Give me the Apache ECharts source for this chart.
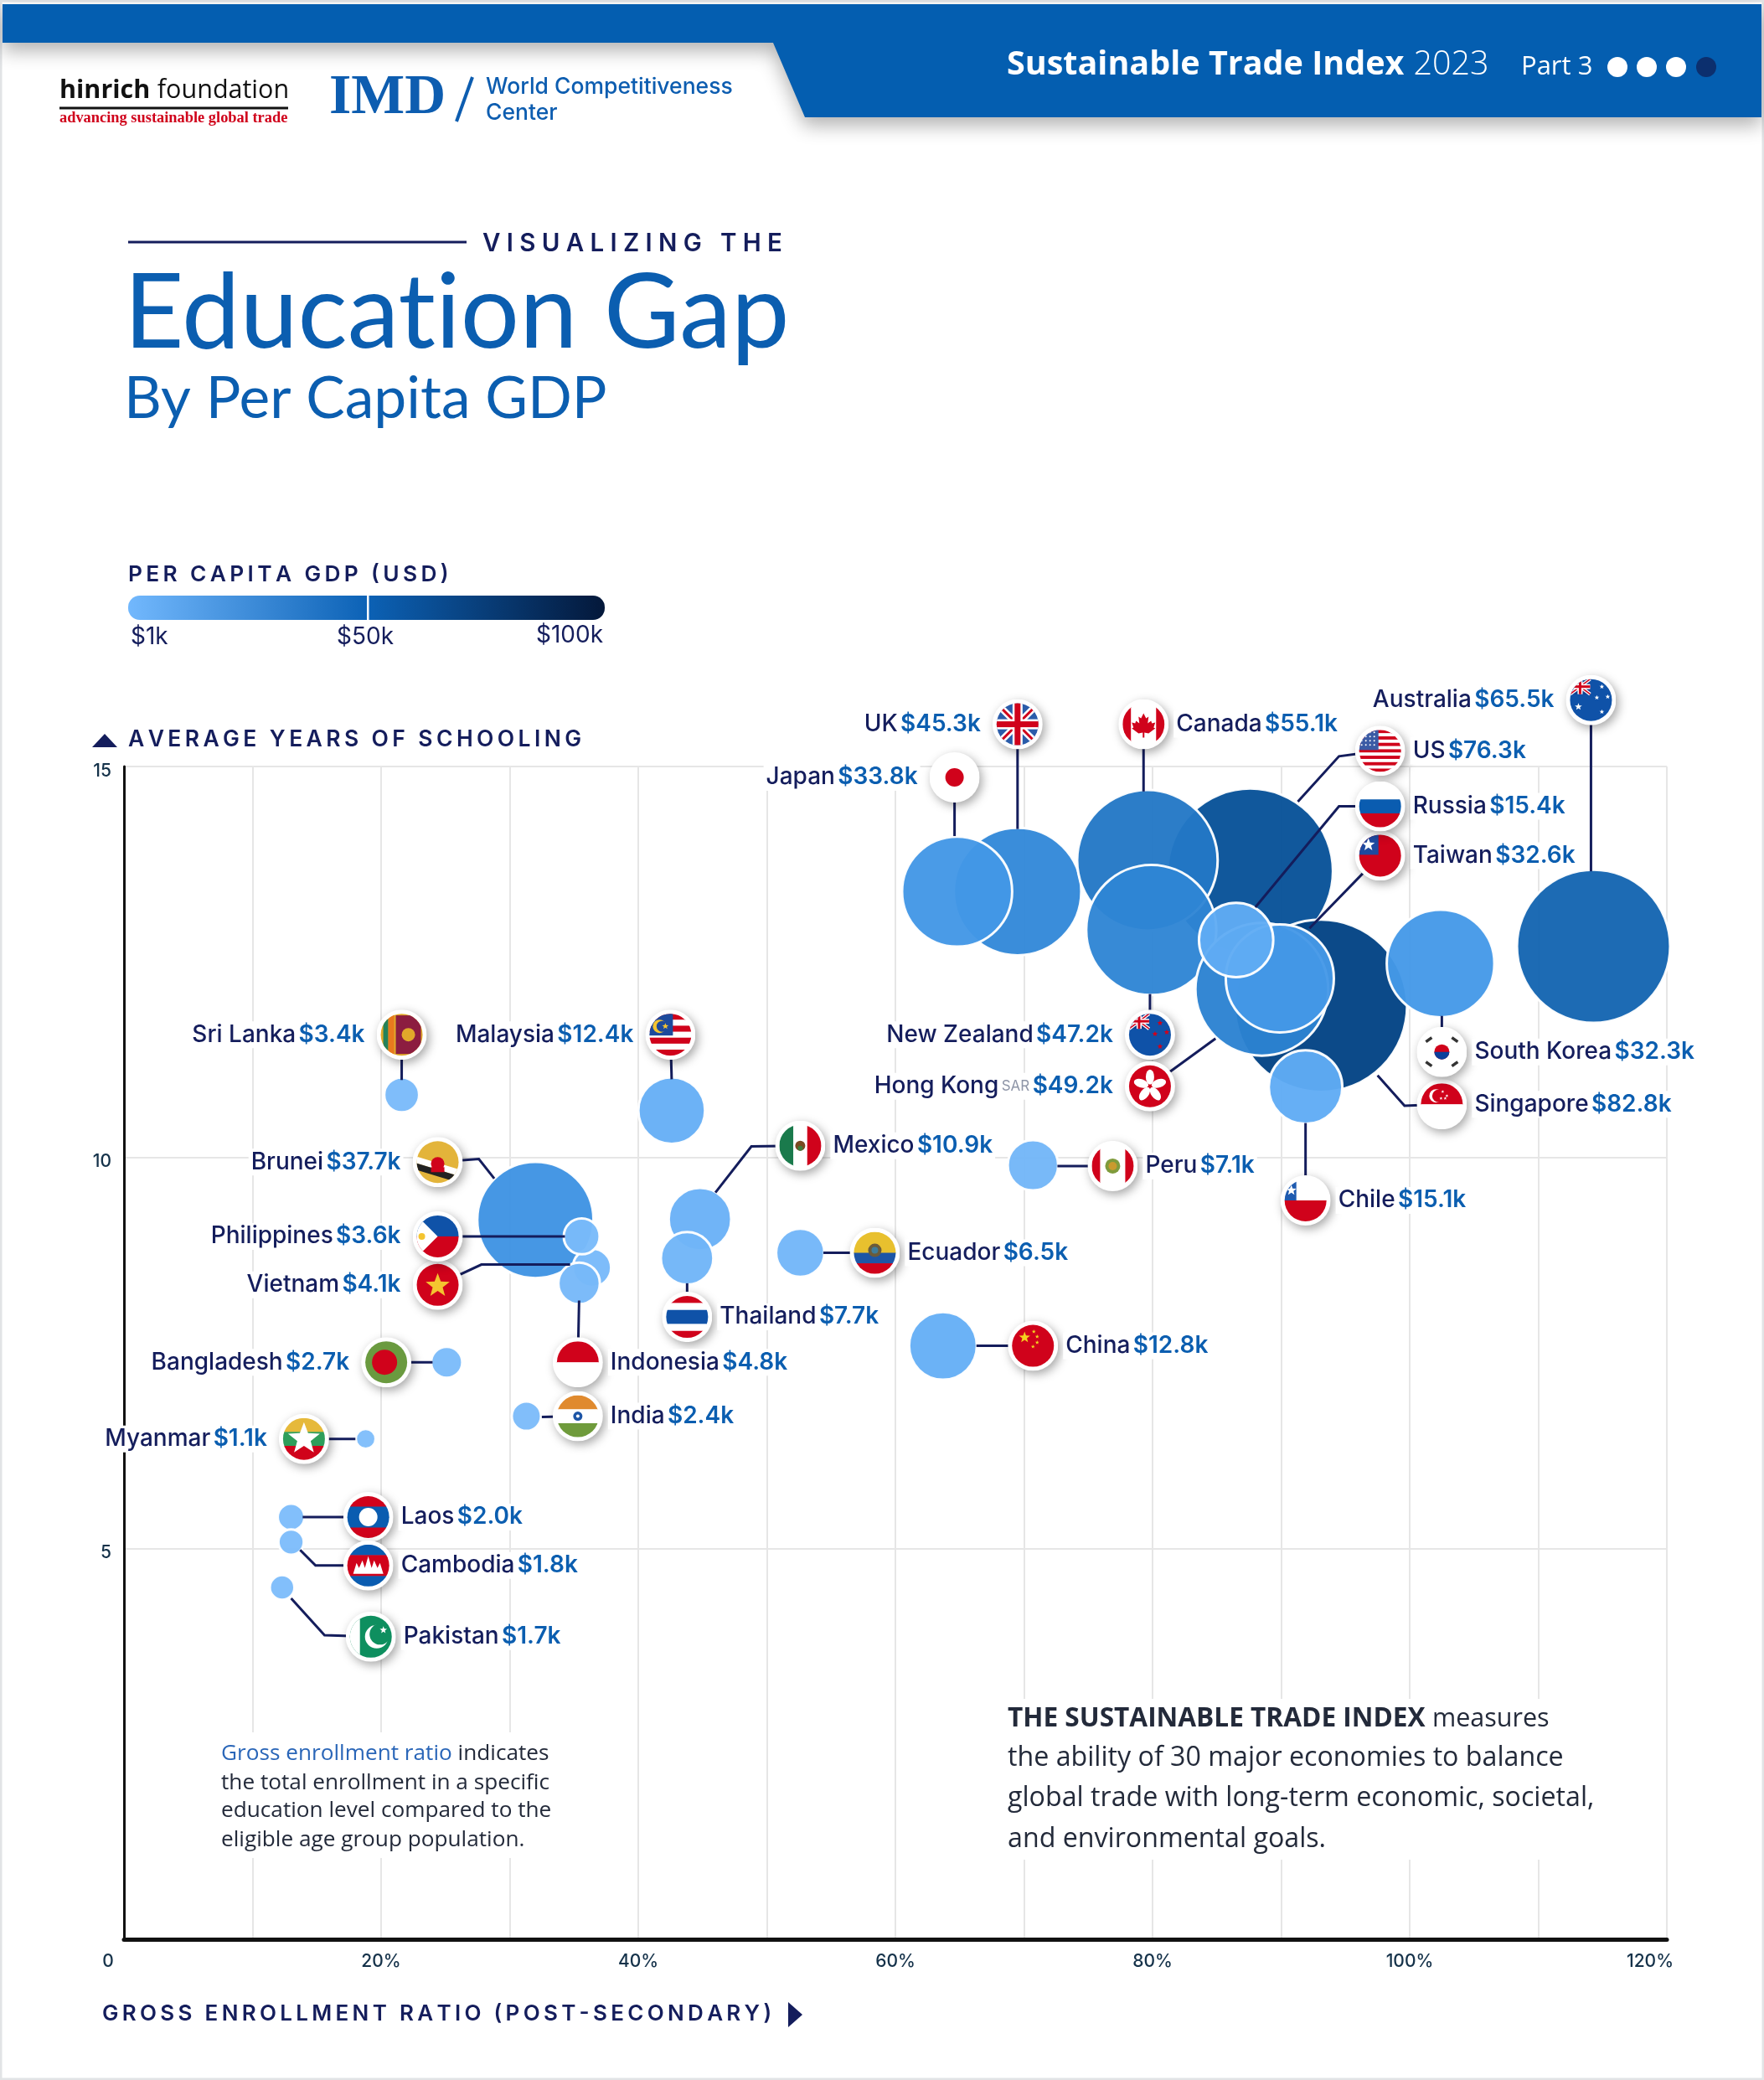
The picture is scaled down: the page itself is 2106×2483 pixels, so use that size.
<!DOCTYPE html>
<html style='height: 100%'>
<head>
    <meta charset='utf-8'>
</head>
<body style='height: 100%; margin: 0; background: #fff'>
    <div id='container' style='width: 2106px; height: 2483px'></div>
    <script src='https://cdn.jsdelivr.net/npm/echarts@6/dist/echarts.min.js'></script>
    <script type='text/javascript'>
// values, listed in drawing order (back to front)
var countries = ['US','Singapore','Australia','UK','Canada','Japan','New Zealand','South Korea','Hong Kong','Taiwan','Russia','Chile','Peru','Sri Lanka','Malaysia','Brunei','Vietnam','Philippines','Indonesia','Mexico','Thailand','Ecuador','China','Bangladesh','India','Myanmar','Laos','Cambodia','Pakistan'];
var enrollment = [87.6,93.1,114.3,69.5,79.6,64.8,79.9,102.4,88.5,89.9,86.5,91.9,70.7,21.6,42.6,32.0,36.4,35.6,35.4,44.8,43.8,52.6,63.7,25.1,31.3,18.8,13.0,13.0,12.3];
var schooling = [13.66,11.94,12.70,13.40,13.80,13.40,12.91,12.48,12.15,12.29,12.78,10.90,9.90,10.80,10.60,9.20,8.59,8.99,8.39,9.21,8.71,8.78,7.59,7.38,6.69,6.40,5.40,5.08,4.50];
var gdp = [76.3,82.8,65.5,45.3,55.1,33.8,47.2,32.3,49.2,32.6,15.4,15.1,7.1,3.4,12.4,37.7,4.1,3.6,4.8,10.9,7.7,6.5,12.8,2.7,2.4,1.1,2.0,1.8,1.7];

// where each flag sits, in axis units
var flagX = [97.7,102.5,114.1,69.5,79.3,64.6,79.8,102.5,79.8,97.7,97.7,91.9,76.9,21.6,42.5,24.4,24.4,24.4,35.3,52.6,43.8,58.4,70.7,20.4,35.3,14.0,19.0,19.0,19.2];
var flagY = [15.20,10.68,15.85,15.54,15.54,14.86,11.57,11.35,10.91,13.86,14.49,9.45,9.89,11.57,11.57,9.94,8.37,8.99,7.38,10.15,7.96,8.78,7.59,7.38,6.69,6.40,5.40,4.78,3.87];
var labelSide = ['right','right','left','left','right','left','left','right','left','right','right','right','right','left','left','left','left','left','right','right','right','right','right','left','right','left','right','right','right'];

// leader line points after the flag, in axis units
var leaderPoints = [
    [[94.5,15.13],[91.3,14.55]], [[99.6,10.66],[97.5,11.05]], [[114.1,13.66]], [[69.5,14.20]], [[79.3,14.68]],
    [[64.6,14.11]], [[79.8,12.09]], [[102.5,11.81]], [[84.9,11.52]], [[92.2,12.93]],
    [[94.5,14.49],[88.0,13.20]], [[91.9,10.44]], [[72.6,9.89]], [[21.6,10.99]], [[42.6,11.00]],
    [[27.6,9.98],[28.8,9.73]], [[27.8,8.63],[34.7,8.63]], [[34.3,8.99]], [[35.4,8.17]], [[48.8,10.14],[46.0,9.55]],
    [[43.8,8.39]], [[54.4,8.78]], [[66.3,7.59]], [[24.0,7.38]], [[32.5,6.68]],
    [[18.0,6.40]], [[13.9,5.40]], [[14.9,4.78],[13.7,4.98]], [[15.6,3.89],[13.0,4.36]]
];

var gdpColors = ['#7fbdfb','#54a5f2','#3a90e0','#1a6fbd','#024a8f','#04183a'];
var navy = '#141d5c';
var blue = '#0b5eb0';
var labelFont = 'Inter';

// flags
function r(x,y,w,h,c){ return '<rect x="'+x+'" y="'+y+'" width="'+w+'" height="'+h+'" fill="'+c+'"/>'; }
function hb(cols,w){
    var t=0,s='',y=5; w=w||cols.map(function(){return 1;});
    w.forEach(function(v){t+=v;});
    cols.forEach(function(c,i){ var h=50*w[i]/t; s+=r(0,y,60,h+.5,c); y+=h; });
    return s;
}
function vb(cols,w){
    var t=0,s='',x=5;
    w.forEach(function(v){t+=v;});
    cols.forEach(function(c,i){ var h=50*w[i]/t; s+=r(x,0,h+.5,60,c); x+=h; });
    return s;
}
function star(cx,cy,R,c){
    var p=[];
    for(var i=0;i<10;i++){
        var a=-Math.PI/2+i*Math.PI/5, q=i%2?R*.42:R;
        p.push((cx+q*Math.cos(a)).toFixed(1)+','+(cy+q*Math.sin(a)).toFixed(1));
    }
    return '<polygon points="'+p.join(' ')+'" fill="'+c+'"/>';
}
function disc(x,y,R,c){ return '<circle cx="'+x+'" cy="'+y+'" r="'+R+'" fill="'+c+'"/>'; }
function poly(pts,c){ return '<polygon points="'+pts+'" fill="'+c+'"/>'; }
function line(a,b,c,d,col,w){ return '<line x1="'+a+'" y1="'+b+'" x2="'+c+'" y2="'+d+'" stroke="'+col+'" stroke-width="'+w+'"/>'; }
function union(x,y,k){
    var s=r(x,y,24*k,18*k,'#123f8c');
    s+=line(x,y,x+24*k,y+18*k,'#fff',4*k)+line(x+24*k,y,x,y+18*k,'#fff',4*k);
    s+=line(x,y,x+24*k,y+18*k,'#d0021b',1.5*k)+line(x+24*k,y,x,y+18*k,'#d0021b',1.5*k);
    s+=r(x+9*k,y,6*k,18*k,'#fff')+r(x,y+6*k,24*k,6*k,'#fff');
    s+=r(x+10.5*k,y,3*k,18*k,'#d0021b')+r(x,y+7.5*k,24*k,3*k,'#d0021b');
    return s;
}
var RED='#d0021b', BL='#0a5cb0';
var flagBodies = {
    'US': (function(){ var c=[],i; for(i=0;i<13;i++) c.push(i%2?'#fff':RED); var s=hb(c),d=''; for(i=0;i<16;i++) d+=disc(8+(i%4)*5,8+Math.floor(i/4)*5,1,'#fff'); return s+r(0,5,28,24,'#3b5ba5')+d; })(),
    'Singapore': hb([RED,'#fff'])+disc(23,20,8,'#fff')+disc(26,20,7.5,RED)+star(31,15,2,'#fff')+star(36,20,2,'#fff')+star(29,23,2,'#fff')+star(34,23,2,'#fff'),
    'Australia': r(0,0,60,60,'#0f52a8')+union(5,5,1)+star(15,38,4.5,'#fff')+star(43,14,3,'#fff')+star(50,26,3,'#fff')+star(37,27,3,'#fff')+star(43,44,3,'#fff'),
    'UK': r(0,0,60,60,'#2a5caa')+line(0,0,60,60,'#fff',8)+line(60,0,0,60,'#fff',8)+line(0,0,60,60,RED,3)+line(60,0,0,60,RED,3)+r(24,0,12,60,'#fff')+r(0,24,60,12,'#fff')+r(26.5,0,7,60,RED)+r(0,26.5,60,7,RED),
    'Canada': vb([RED,'#fff',RED],[1,3,1])+poly('30,17 33,23 36,21 35,29 39,26 40,29 44,28 42,34 44,35 36,41 31,40 31,46 29,46 29,40 24,41 16,35 18,34 16,28 20,29 21,26 25,29 24,21 27,23',RED),
    'Japan': r(0,0,60,60,'#fff')+disc(30,30,11,RED),
    'New Zealand': r(0,0,60,60,'#0f52a8')+union(5,5,1)+star(42,16,3.5,RED)+star(50,27,3.5,RED)+star(36,29,3.5,RED)+star(42,44,3.5,RED),
    'South Korea': r(0,0,60,60,'#fff')+disc(30,30,9,RED)+'<path d="M21 30a9 9 0 0 0 18 0z" fill="#0a3f9c"/>'+line(11,18,18,13,'#333',3.5)+line(42,13,49,18,'#333',3.5)+line(11,42,18,47,'#333',3.5)+line(42,47,49,42,'#333',3.5),
    'Hong Kong': r(0,0,60,60,RED)+'<g fill="#fff"><ellipse cx="30" cy="19" rx="5" ry="9"/><ellipse cx="30" cy="19" rx="5" ry="9" transform="rotate(72 30 30)"/><ellipse cx="30" cy="19" rx="5" ry="9" transform="rotate(144 30 30)"/><ellipse cx="30" cy="19" rx="5" ry="9" transform="rotate(216 30 30)"/><ellipse cx="30" cy="19" rx="5" ry="9" transform="rotate(288 30 30)"/></g>',
    'Taiwan': r(0,0,60,60,RED)+r(0,0,28,29,'#1f4aa0')+star(16,17,8,'#fff'),
    'Russia': hb(['#fff',BL,RED]),
    'Chile': hb(['#fff',RED])+r(0,0,19,30,'#1f5bb0')+star(13,18,6.5,'#fff'),
    'Peru': vb([RED,'#fff',RED],[1,3,1])+disc(30,30,9,'#7f9b3c')+disc(30,30,5,'#c99a2e'),
    'Sri Lanka': r(0,0,60,60,'#e0a92a')+r(8,0,6,60,'#24825a')+r(14,0,7,60,'#e8791e')+r(23,7,30,46,'#8c1d40')+disc(38,30,8,'#e0a92a'),
    'Malaysia': hb([RED,'#fff',RED,'#fff',RED,'#fff',RED])+r(0,0,33,31,'#1d4a9c')+disc(17,20,8,'#f4c430')+disc(20,20,6.5,'#1d4a9c')+star(24,20,4,'#f4c430'),
    'Brunei': r(0,0,60,60,'#e3b43a')+poly('0,22 60,40 60,48 0,30','#fff')+poly('0,30 60,48 60,56 0,38','#222')+disc(30,32,8,RED)+r(22,36,16,6,RED),
    'Vietnam': r(0,0,60,60,RED)+star(30,31,15,'#f4c430'),
    'Philippines': hb(['#0f52a8',RED])+poly('0,0 30,30 0,60','#fff')+disc(11,30,4,'#f4c430'),
    'Indonesia': hb([RED,'#fff']),
    'Mexico': vb(['#1a7a4c','#fff',RED],[1,1,1])+disc(30,30,6,'#7a4a22')+disc(30,33,3,'#3f7d3a'),
    'Thailand': hb([RED,'#fff','#0f52a8','#fff',RED],[1,1,2,1,1]),
    'Ecuador': hb(['#e8c02e','#1d55a6',RED],[2,1,1])+disc(30,27,8,'#6b5b3a')+disc(30,27,4,'#3f7d9a'),
    'China': r(0,0,60,60,RED)+star(20,20,7,'#f4d21f')+star(31,13,2.5,'#f4d21f')+star(35,19,2.5,'#f4d21f')+star(35,26,2.5,'#f4d21f')+star(30,31,2.5,'#f4d21f'),
    'Bangladesh': r(0,0,60,60,'#6a9a3f')+disc(28,30,15,RED),
    'India': hb(['#e08a2e','#fff','#6f9b3c'])+disc(30,30,5.5,'#1d55a6')+disc(30,30,2,'#fff'),
    'Myanmar': hb(['#e6b93a','#2e9e5b',RED])+star(30,30,20,'#fff'),
    'Laos': hb([RED,BL,BL,RED])+disc(30,30,11,'#fff'),
    'Cambodia': hb([BL,RED,RED,BL])+poly('12,40 16,27 19,33 23,24 26,33 30,19 34,33 37,24 41,33 44,27 48,40','#fff'),
    'Pakistan': r(0,0,60,60,'#0e8f5f')+r(0,0,17,60,'#fff')+disc(37,30,14,'#fff')+disc(41,27,12.5,'#0e8f5f')+star(45,22,4.5,'#fff')
};
function flagSymbol(name){
    var svg = '<svg xmlns="http://www.w3.org/2000/svg" width="180" height="180" viewBox="0 0 60 60"><defs><clipPath id="c"><circle cx="30" cy="30" r="25"/></clipPath></defs>'
        + disc(30,30,30,'#fff') + '<g clip-path="url(#c)">' + flagBodies[name] + '</g></svg>';
    return 'image://data:image/svg+xml;charset=utf-8,' + encodeURIComponent(svg);
}
function spaced(s,gap){ return s.split('').join(gap||'\u2009'); }

var bubbles = countries.map(function(name,i){ return {name:name, value:[enrollment[i],schooling[i],gdp[i]]}; });
var flags = countries.map(function(name,i){
    return {name:name, value:[flagX[i],flagY[i]], symbol:flagSymbol(name), label:{position:labelSide[i], distance:labelSide[i]=='left'?11:6}};
});
var leaders = countries.map(function(name,i){
    return {coords:[[flagX[i],flagY[i]]].concat(leaderPoints[i])};
});

function labelText(p){
    var i = countries.indexOf(p.name);
    var money = '{v|$' + gdp[i].toFixed(1) + 'k}';
    if(p.name=='Hong Kong') return '{n|Hong Kong} {s|SAR} ' + money;
    return '{n|' + p.name + '} ' + money;
}

function tx(x,y,text,size,color,extra){
    var st = {text:text, fontSize:size, fill:color, fontFamily:labelFont, verticalAlign:'middle'};
    for(var k in (extra||{})) st[k]=extra[k];
    return {type:'text', x:x, y:y, z:20, silent:true, style:st};
}
function dot(x,c){ return {type:'circle', z:20, silent:true, shape:{cx:x,cy:80,r:12}, style:{fill:c}}; }

var graphics = [
    {type:'rect', z:0, silent:true, shape:{x:1,y:1,width:2104,height:2481}, style:{fill:'none',stroke:'#e2e4e6',lineWidth:3}},
    {type:'polygon', z:15, silent:true, shape:{points:[[3,5],[2103,5],[2103,140],[961,140],[923,51],[3,51]]}, style:{fill:'#045eb0',shadowBlur:22,shadowColor:'rgba(0,0,0,.3)',shadowOffsetY:10}},
    tx(1202,78,'{b|Sustainable Trade Index} {l|2023}',39.5,'#fff',{rich:{b:{fontSize:39.5,fontWeight:700,fill:'#fff',fontFamily:'Open Sans'},l:{fontSize:39.5,fontWeight:300,fill:'#fff',fontFamily:'Open Sans'}}}),
    tx(1816,80,'Part 3',31,'#fff',{fontFamily:'Open Sans'}),
    dot(1931,'#fff'), dot(1966,'#fff'), dot(2001,'#fff'), dot(2037,'#0c2f6e'),
    tx(71,108,'{b|hinrich} {l|foundation}',30.5,'#111',{rich:{b:{fontSize:30.5,fontWeight:700,fill:'#111',fontFamily:'Open Sans'},l:{fontSize:30.5,fontWeight:400,fill:'#111',fontFamily:'Open Sans'}}}),
    {type:'line', z:20, silent:true, shape:{x1:71,y1:129,x2:344,y2:129}, style:{stroke:'#111',lineWidth:3}},
    tx(71,141,'advancing sustainable global trade',18.4,'#d0021b',{fontWeight:700,fontFamily:'Liberation Serif'}),
    tx(393,118,'IMD',67.7,'#0d5db0',{fontFamily:'Liberation Serif',fontWeight:700}),
    {type:'line', z:20, silent:true, shape:{x1:545,y1:145,x2:564,y2:92}, style:{stroke:'#0d5db0',lineWidth:4}},
    tx(580,104,'World Competitiveness',26.5,'#0d5db0',{fontWeight:500}),
    tx(580,135,'Center',26.5,'#0d5db0',{fontWeight:500}),

    {type:'line', z:20, silent:true, shape:{x1:153,y1:289,x2:557,y2:289}, style:{stroke:navy,lineWidth:3}},
    tx(576,291,spaced('VISUALIZING THE','\u2009\u200a'),29.5,navy,{fontWeight:600}),

    tx(153,686,spaced('PER CAPITA GDP (USD)'),26.3,navy,{fontWeight:600}),
    {type:'rect', z:20, silent:true, shape:{x:153,y:711,width:569,height:29,r:14}, style:{fill:new echarts.graphic.LinearGradient(0,0,1,0,[{offset:0,color:'#72b8fd'},{offset:.5,color:'#0c62b6'},{offset:1,color:'#04183a'}])}},
    {type:'rect', z:21, silent:true, shape:{x:438,y:711,width:2.5,height:29}, style:{fill:'#fff'}},
    tx(156,761,'$1k',28,navy,{}),
    tx(402,761,'$50k',28,navy,{}),
    tx(640,759,'$100k',28,navy,{}),

    {type:'polygon', z:20, silent:true, shape:{points:[[110,892],[125,876],[140,892]]}, style:{fill:navy}},
    {type:'polygon', z:20, silent:true, shape:{points:[[941,2390],[958,2405],[941,2420]]}, style:{fill:navy}},

    // notes sit on white boxes that break the gridlines
    {type:'rect', z:1, silent:true, shape:{x:255,y:2068,width:420,height:150}, style:{fill:'#fff'}},
    {type:'rect', z:1, silent:true, shape:{x:1190,y:2028,width:725,height:192}, style:{fill:'#fff'}},
    tx(264,2094,'{c|Gross enrollment ratio} indicates',26.2,'#232a3a',{fontFamily:'Open Sans',rich:{c:{fill:'#2a66b8',fontSize:26.2,fontFamily:'Open Sans'}}}),
    tx(264,2129,'the total enrollment in a specific',26.2,'#232a3a',{fontFamily:'Open Sans'}),
    tx(264,2162,'education level compared to the',26.2,'#232a3a',{fontFamily:'Open Sans'}),
    tx(264,2197,'eligible age group population.',26.2,'#232a3a',{fontFamily:'Open Sans'}),
    tx(1203,2052,'{b|THE SUSTAINABLE TRADE INDEX} {m|measures}',32.2,'#232a3a',{fontFamily:'Open Sans',rich:{b:{fontSize:31.6,fontWeight:700,fill:'#232a3a',fontFamily:'Open Sans'},m:{fontSize:30.5,fill:'#232a3a',fontFamily:'Open Sans'}}}),
    tx(1203,2099,'the ability of 30 major economies to balance',32.2,'#232a3a',{fontFamily:'Open Sans'}),
    tx(1203,2147,'global trade with long-term economic, societal,',32.2,'#232a3a',{fontFamily:'Open Sans'}),
    tx(1203,2196,'and environmental goals.',32.2,'#232a3a',{fontFamily:'Open Sans'})
];

var tickRich = function(extra){
    var o = {fontSize:21, fontWeight:500, color:'#15324a', fontFamily:labelFont};
    for(var k in extra) o[k]=extra[k];
    return o;
};

var dom = document.getElementById('container');
var myChart = echarts.init(dom, null, {renderer:'canvas'});
var option = {
    animation: false,
    backgroundColor: '#fff',
    title: {
        text: 'Educat\u200cion Gap',
        subtext: 'By Per Capita GDP',
        left: 143,
        top: 306,
        itemGap: 0,
        textStyle: {fontSize:124, fontWeight:400, color:blue, fontFamily:'Lato', lineHeight:128},
        subtextStyle: {fontSize:69.5, fontWeight:400, color:blue, fontFamily:'Lato', lineHeight:76}
    },
    grid: {left:148, right:116, top:915, height:1400, containLabel:false},
    xAxis: {
        type: 'value', min: 0, max: 120, interval: 10,
        name: spaced('GROSS ENROLLMENT RATIO (POST-SECONDARY)'),
        nameLocation: 'start', nameGap: 26, nameMoveOverlap: false,
        nameTextStyle: {align:'left', verticalAlign:'top', padding:[76,0,0,0], fontSize:26, fontWeight:600, color:navy, fontFamily:labelFont},
        axisLine: {onZero:false, lineStyle:{color:'#111', width:5}},
        axisTick: {show:false},
        splitLine: {lineStyle:{color:'#e6e6e6', width:2}},
        axisLabel: {
            margin: 16, fontSize: 21, fontWeight: 500, color: '#15324a', fontFamily: labelFont,
            formatter: function(v){
                if(v==0) return '{a|0}';
                if(v==120) return '{a2|120%}';
                return v%20==0 ? v+'%' : '';
            },
            rich: {a:tickRich({padding:[0,38,0,0]}), a2:tickRich({padding:[0,40,0,0]})}
        }
    },
    yAxis: {
        type: 'value', min: 0, max: 15, interval: 5,
        name: spaced('AVERAGE YEARS OF SCHOOLING'),
        nameLocation: 'end', nameGap: 18, nameMoveOverlap: false,
        nameTextStyle: {align:'left', padding:[0,0,0,5], fontSize:26.5, fontWeight:600, color:navy, fontFamily:labelFont},
        axisLine: {show:true, onZero:false, lineStyle:{color:'#111', width:3}},
        axisTick: {show:false},
        splitLine: {lineStyle:{color:'#e6e6e6', width:2}},
        axisLabel: {
            margin: 15, fontFamily: labelFont,
            formatter: function(v){ return v==0 ? '' : '{t|'+v+'}'; },
            rich: {t:tickRich({padding:[11,0,0,0]})}
        }
    },
    visualMap: {
        show: false, type: 'continuous', seriesIndex: 0, dimension: 2,
        min: 1, max: 100, inRange: {color: gdpColors}
    },
    series: [
        {
            name: 'Per capita GDP',
            type: 'scatter',
            z: 2,
            clip: false,
            data: bubbles,
            symbolSize: function(v){ return Math.sqrt(v[2])*22.6; },
            itemStyle: {opacity:.96, borderColor:'#fff', borderWidth:3},
            emphasis: {disabled:true},
            silent: true
        },
        {
            name: 'Leaders',
            type: 'lines',
            z: 3,
            clip: false,
            coordinateSystem: 'cartesian2d',
            polyline: true,
            data: leaders,
            lineStyle: {color:navy, width:3, opacity:1, curveness:0},
            silent: true
        },
        {
            name: 'Flags',
            type: 'scatter',
            z: 4,
            clip: false,
            data: flags,
            symbolSize: 60,
            itemStyle: {opacity:1, shadowBlur:12, shadowColor:'rgba(0,0,0,.35)', shadowOffsetX:3, shadowOffsetY:4},
            label: {
                show: true,
                formatter: labelText,
                backgroundColor: '#fff',
                padding: [2,3],
                fontFamily: labelFont,
                rich: {
                    n: {fontSize:28, fontWeight:500, color:navy, fontFamily:labelFont},
                    v: {fontSize:28, fontWeight:600, color:blue, fontFamily:labelFont},
                    s: {fontSize:17, color:'#8f96a8', fontFamily:labelFont}
                }
            },
            labelLayout: {hideOverlap:false},
            emphasis: {disabled:true},
            silent: true
        }
    ],
    graphic: {elements: graphics}
};
myChart.setOption(option);
    </script>
</body>
</html>
